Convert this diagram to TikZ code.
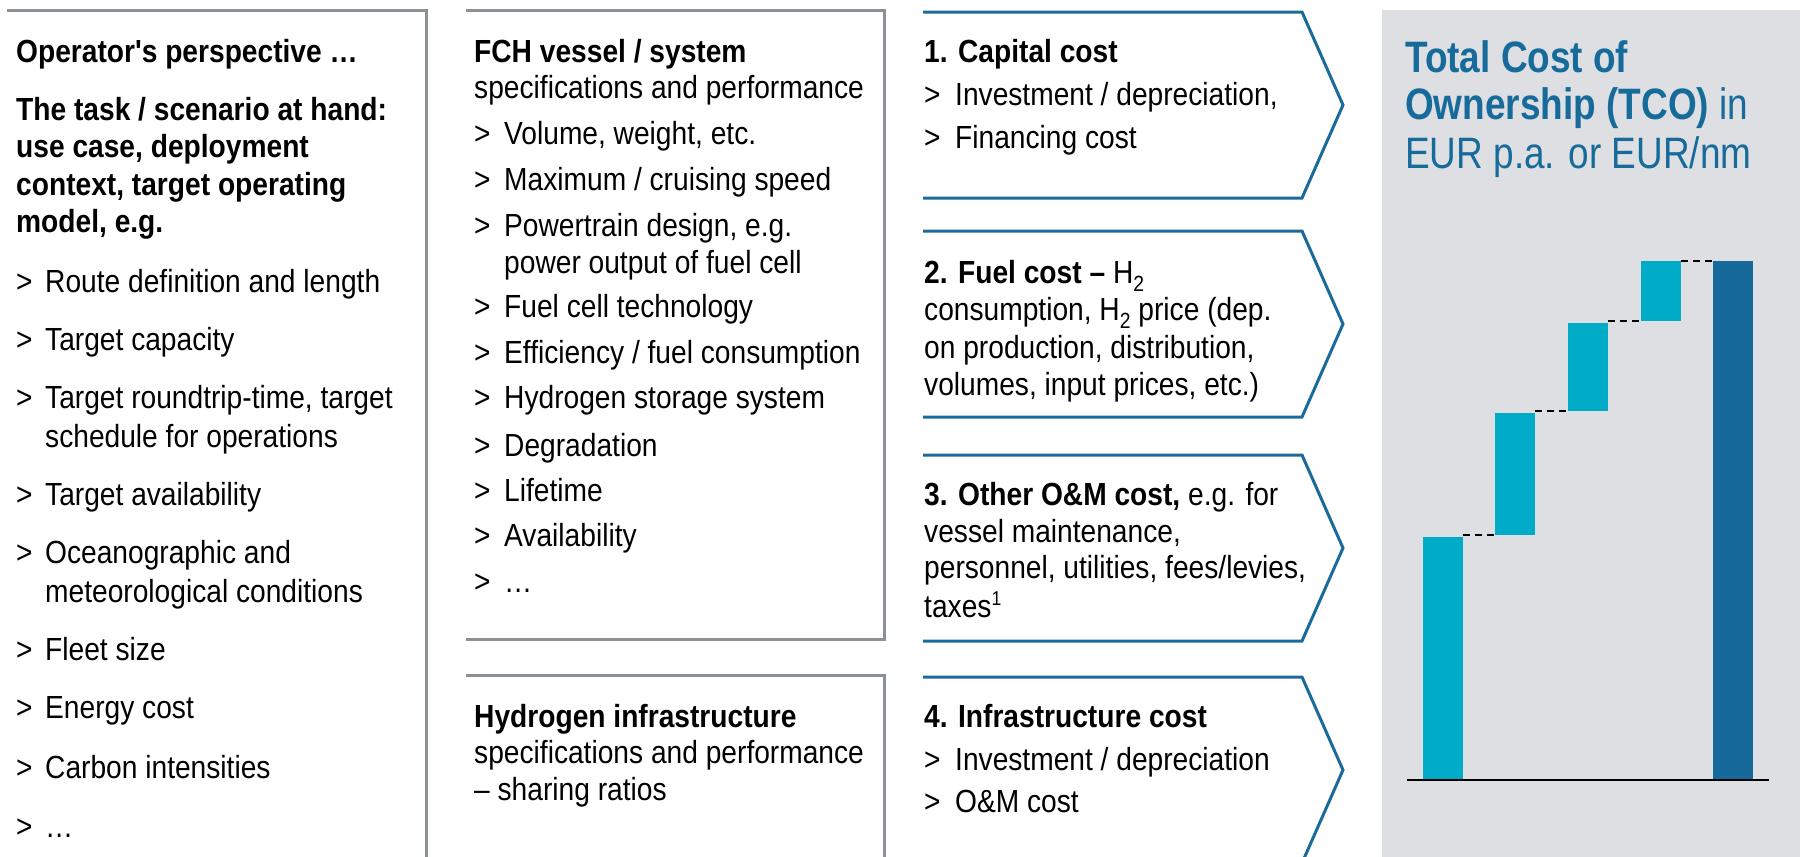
\documentclass[tikz,border=0pt]{standalone}
\usepackage{fontspec}
\newfontfamily\bodyfont[FakeStretch=0.88]{Liberation Sans}
\newfontfamily\titlefont[FakeStretch=0.84]{Liberation Sans}
\definecolor{boxgray}{HTML}{8C9196}
\definecolor{chevblue}{HTML}{1A6A9A}
\definecolor{panelgray}{HTML}{DEDFE3}
\definecolor{titleblue}{HTML}{176B9B}
\definecolor{lightbar}{HTML}{00ABC8}
\definecolor{darkbar}{HTML}{166A9B}
\newcommand\bul[1][30pt]{\makebox[#1][l]{>}}
\newcommand\subtwo{\raisebox{-8pt}{\fontsize{22}{22}\selectfont 2}}
\newcommand\supone{\raisebox{12pt}{\fontsize{20}{20}\selectfont 1}}
\tikzset{
  txt/.style={anchor=base west, inner sep=0pt, font=\bodyfont\fontsize{32}{39}\selectfont},
  txtb/.style={txt, font=\bodyfont\bfseries\fontsize{32}{39}\selectfont},
  ttl/.style={anchor=base west, inner sep=0pt, text=titleblue, font=\titlefont\fontsize{44}{48}\selectfont},
  gbox/.style={draw=boxgray, line width=3pt},
  chev/.style={draw=chevblue, line width=3pt, line join=miter},
  bar/.style={anchor=south west, inner sep=0pt, minimum width=40pt},
  lbar/.style={bar, fill=lightbar},
  dbar/.style={bar, fill=darkbar},
  dashln/.style={draw=black, line width=2pt, dash pattern=on 7pt off 5pt},
}
\begin{document}
\begin{tikzpicture}[x=1pt,y=-1pt]
\useasboundingbox (0,0) rectangle (1800,857);
% panel
\fill[panelgray] (1382,10) rectangle (1800,857);
% frames
\draw[gbox] (7,10) -- (426,10) -- (426,862);
\draw[gbox] (466,10) -- (884,10) -- (884,639) -- (466,639);
\draw[gbox] (466,675) -- (884,675) -- (884,862);
% chevrons
\draw[chev] (923,12) -- (1302,12) -- (1343,105) -- (1302,198) -- (923,198);
\draw[chev] (923,231) -- (1302,231) -- (1343,324) -- (1302,417) -- (923,417);
\draw[chev] (923,455) -- (1302,455) -- (1343,548) -- (1302,641) -- (923,641);
\draw[chev] (923,677) -- (1302,677) -- (1343,770) -- (1302,863) -- (923,863);

% left column
\node[txtb] (op) at (16,62) {Operator's perspective …};
\node[txtb] (t1) at (16,120) {The task / scenario at hand:};
\node[txtb] (t2) at (16,157) {use case, deployment};
\node[txtb] (t3) at (16,195) {context, target operating};
\node[txtb] (t4) at (16,232) {model, e.g.};
\node[txt] (l1) at (16,292) {\bul[29pt]Route definition and length};
\node[txt] (l2) at (16,350) {\bul[29pt]Target capacity};
\node[txt] (l3) at (16,408) {\bul[29pt]Target roundtrip-time, target};
\node[txt] (l3b) at (45,447) {schedule for operations};
\node[txt] (l4) at (16,505) {\bul[29pt]Target availability};
\node[txt] (l5) at (16,563) {\bul[29pt]Oceanographic and};
\node[txt] (l5b) at (45,602) {meteorological conditions};
\node[txt] (l6) at (16,660) {\bul[29pt]Fleet size};
\node[txt] (l7) at (16,718) {\bul[29pt]Energy cost};
\node[txt] (l8) at (16,778) {\bul[29pt]Carbon intensities};
\node[txt] (l9) at (16,837) {\bul[29pt]…};

% middle column
\node[txtb] (fch) at (474,62) {FCH vessel / system};
\node[txt] (fchs) at (474,98) {specifications and performance};
\node[txt] (m1) at (474,144) {\bul Volume, weight, etc.};
\node[txt] (m2) at (474,190) {\bul Maximum / cruising speed};
\node[txt] (m3) at (474,236) {\bul Powertrain design, e.g.};
\node[txt] (m3b) at (504,273) {power output of fuel cell};
\node[txt] (m4) at (474,317) {\bul Fuel cell technology};
\node[txt] (m5) at (474,363) {\bul Efficiency / fuel consumption};
\node[txt] (m6) at (474,408) {\bul Hydrogen storage system};
\node[txt] (m7) at (474,456) {\bul Degradation};
\node[txt] (m8) at (474,501) {\bul Lifetime};
\node[txt] (m9) at (474,546) {\bul Availability};
\node[txt] (m10) at (474,592) {\bul …};
\node[txtb] (hi) at (474,727) {Hydrogen infrastructure};
\node[txt] (his) at (474,763) {specifications and performance};
\node[txt] (hir) at (474,800) {– sharing ratios};

% chevron texts
\node[txtb] (c1) at (924,62) {1. Capital cost};
\node[txt] (c1a) at (924,105) {\bul[31pt]Investment / depreciation,};
\node[txt] (c1b) at (924,148) {\bul[31pt]Financing cost};
\node[txt] (c2) at (924,283) {\textbf{2. Fuel cost –} H\subtwo};
\node[txt] (c2a) at (924,320) {consumption, H\subtwo\ price (dep.};
\node[txt] (c2b) at (924,358) {on production, distribution,};
\node[txt] (c2c) at (924,395) {volumes, input prices, etc.)};
\node[txt] (c3) at (924,505) {\textbf{3. Other O\&M cost,} e.g. for};
\node[txt] (c3a) at (924,542) {vessel maintenance,};
\node[txt] (c3b) at (924,578) {personnel, utilities, fees/levies,};
\node[txt] (c3c) at (924,617) {taxes\supone};
\node[txtb] (c4) at (924,727) {4. Infrastructure cost};
\node[txt] (c4a) at (924,770) {\bul[31pt]Investment / depreciation};
\node[txt] (c4b) at (924,812) {\bul[31pt]O\&M cost};

% title
\node[ttl] (tt1) at (1405,72) {\bfseries Total Cost of};
\node[ttl] (tt2) at (1405,119) {\textbf{Ownership (TCO)} in};
\node[ttl] (tt3) at (1405,168) {EUR p.a. or EUR/nm};

% waterfall
\node[lbar, minimum height=243pt] (b1) at (1423,780) {};
\node[lbar, minimum height=122pt] (b2) at (1495,535) {};
\node[lbar, minimum height=88pt] (b3) at (1568,411) {};
\node[lbar, minimum height=60pt] (b4) at (1641,321) {};
\node[dbar, minimum height=519pt] (b5) at (1713,780) {};
\draw[dashln] (b1.north east |- b2.south) -- (b2.south west);
\draw[dashln] (b2.north east |- b3.south) -- (b3.south west);
\draw[dashln] (b3.north east |- b4.south) -- (b4.south west);
\draw[dashln] (b4.north east |- b5.north) -- (b5.north west);
\draw[line width=2.5pt] (1407,780) -- (1769,780);
\end{tikzpicture}
\end{document}
